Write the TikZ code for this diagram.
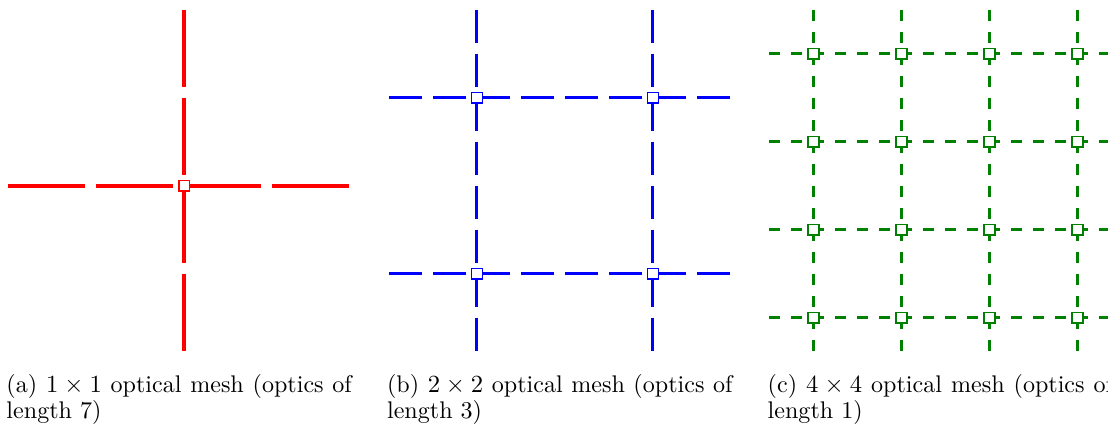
\documentclass[tikz,border=0pt]{standalone}
\usepackage{amsmath}
\usepackage{xcolor}
\usepackage{tikz}

\definecolor{meshgreen}{RGB}{0,128,0}
\setlength{\lineskiplimit}{-5pt}

\begin{document}
\begin{tikzpicture}[
    x=4.889pt, y=-4.889pt,
    port/.style={
        draw=#1,
        fill=white,
        line width=0.6pt,
        inner sep=0pt,
        minimum size=4.8pt
    },
    redmesh/.style={
        red,
        line width=1.8pt,
        dash pattern=on 34.22pt off 4.889pt
    },
    bluemesh/.style={
        blue,
        line width=1.45pt,
        dash pattern=on 14.67pt off 4.889pt
    },
    greenmesh/.style={
        meshgreen,
        line width=1.25pt,
        dash pattern=on 4.889pt off 4.889pt
    },
    subcap/.style={
        anchor=north west,
        inner sep=0pt,
        text width=153.5pt,
        align=justify,
        font=\fontsize{10.7}{10.05}\selectfont
    }
]

\clip[use as bounding box] (0,0) rectangle (100.727,38.636);

% (a) one port, optics of length 7
\begin{scope}[shift={(0.75,0.88)}]
\coordinate (aW) at (0,16);
\coordinate (aE) at (31,16);
\coordinate (aN) at (16,0);
\coordinate (aS) at (16,31);
\draw[redmesh] (aW) -- (aE);
\draw[redmesh] (aN) -- (aS);
\node[port=red] (a11) at (16,16) {};
\end{scope}

% (b) 2x2 ports, optics of length 3
\begin{scope}[shift={(35.35,0.88)}]
\foreach \k in {1,2} {
    \coordinate (bW\k) at (0,{8+16*(\k-1)});
    \coordinate (bE\k) at (31,{8+16*(\k-1)});
    \coordinate (bN\k) at ({8+16*(\k-1)},0);
    \coordinate (bS\k) at ({8+16*(\k-1)},31);
    \draw[bluemesh] (bW\k) -- (bE\k);
    \draw[bluemesh] (bN\k) -- (bS\k);
}
\foreach \i in {1,2}
    \foreach \j in {1,2}
        \node[port=blue] (b\i\j) at ({8+16*(\i-1)},{8+16*(\j-1)}) {};
\end{scope}

% (c) 4x4 ports, optics of length 1
\begin{scope}[shift={(69.95,0.88)}]
\foreach \k in {1,...,4} {
    \coordinate (cW\k) at (0,{4+8*(\k-1)});
    \coordinate (cE\k) at (31,{4+8*(\k-1)});
    \coordinate (cN\k) at ({4+8*(\k-1)},0);
    \coordinate (cS\k) at ({4+8*(\k-1)},31);
    \draw[greenmesh] (cW\k) -- (cE\k);
    \draw[greenmesh] (cN\k) -- (cS\k);
}
\foreach \i in {1,...,4}
    \foreach \j in {1,...,4}
        \node[port=meshgreen] (c\i\j) at ({4+8*(\i-1)},{4+8*(\j-1)}) {};
\end{scope}

% captions
\node[subcap] (capa) at (0.55,34.0) {(a) $1\times1$ optical mesh (optics of length 7)};
\node[subcap] (capb) at (35.15,34.0) {(b) $2\times2$ optical mesh (optics of length 3)};
\node[subcap] (capc) at (69.75,34.0) {(c) $4\times4$ optical mesh (optics of length 1)};

\end{tikzpicture}
\end{document}
